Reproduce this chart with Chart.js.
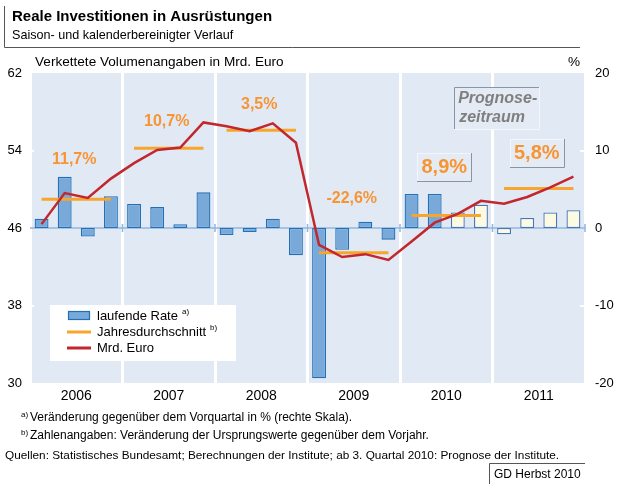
<!DOCTYPE html>
<html><head><meta charset="utf-8">
<script src="https://cdn.jsdelivr.net/npm/chart.js@4.4.0/dist/chart.umd.min.js"></script>
<style>html,body{margin:0;padding:0;background:#fff;}canvas{display:block}</style>
</head><body>
<canvas id="c" width="617" height="484"></canvas>
<script>
// ---- data ----
const years = ['2006', '2007', '2008', '2009', '2010', '2011'];
const quarters = ['I/06','II/06','III/06','IV/06','I/07','II/07','III/07','IV/07',
  'I/08','II/08','III/08','IV/08','I/09','II/09','III/09','IV/09',
  'I/10','II/10','III/10','IV/10','I/11','II/11','III/11','IV/11'];
const rateValues = [1.2, 6.6, -1.1, 4.1, 3.1, 2.7, 0.5, 4.6, -0.9, -0.5, 1.2, -3.5,
  -19.4, -2.8, 0.8, -1.5, 4.4, 4.4, 2.0, 3.0, -0.8, 1.3, 2.0, 2.3];
const euroValues = [46.4, 49.6, 49.1, 51.1, 52.7, 54.05, 54.3, 56.9, 56.5, 56.0, 56.8, 54.8,
  44.25, 43.0, 43.3, 42.7, 44.6, 46.55, 47.45, 48.8, 48.5, 49.2, 50.2, 51.3];
const annualAvg = [3.7, 10.3, 12.6, -3.2, 1.6, 5.1];
const annualLabels = ['11,7%', '10,7%', '3,5%', '-22,6%', '8,9%', '5,8%'];
const forecastStart = 18; // index of first forecast quarter (III/2010)
const leftTicks = [30, 38, 46, 54, 62];
const rightTicks = [-20, -10, 0, 10, 20];

// ---- style / placement (not data) ----
const FONT = "'Liberation Sans', Arial, sans-serif";
const BLUE_FILL = '#79A9D8', BLUE_LINE = '#2170B8';
const FC_FILL = '#FCFBE2', FC_LINE = '#4A74BC';
const RED = '#C1272D', ORANGE = '#F7A52C', LABEL_OR = '#F79534';
const PLOT_BG = '#E1E9F4';
const labelAt = [9.0, 13.9, 16.0, 3.9, 7.9, 9.7];   // y (right scale units) of the % labels
const labelBoxed = [false, false, false, false, true, true];

Chart.defaults.font.family = FONT;
Chart.defaults.color = '#000';

const annualSeries = quarters.map((q, i) => annualAvg[Math.floor(i / 4)]);

const bgPlugin = {
  id: 'bg',
  beforeDraw(chart) {
    const {ctx, chartArea: a} = chart;
    ctx.save();
    ctx.fillStyle = '#fff';
    ctx.fillRect(0, 0, chart.width, chart.height);
    ctx.fillStyle = PLOT_BG;
    ctx.fillRect(a.left, a.top, a.right - a.left, a.bottom - a.top);
    ctx.restore();
  },
  beforeDatasetsDraw(chart) {
    const {ctx, chartArea: a} = chart;
    const yR = chart.scales.yR, yL = chart.scales.yL, x = chart.scales.x;
    ctx.save();
    // small white ticks
    ctx.strokeStyle = '#fff'; ctx.lineWidth = 2;
    [54, 38].forEach(v => {
      const y = Math.round(yL.getPixelForValue(v));
      ctx.beginPath(); ctx.moveTo(a.left, y); ctx.lineTo(a.left + 4, y); ctx.stroke();
      ctx.beginPath(); ctx.moveTo(a.right - 5, y); ctx.lineTo(a.right, y); ctx.stroke();
    });
    // zero baseline with year ticks
    const y0 = yR.getPixelForValue(0);
    ctx.strokeStyle = '#8FB6E0'; ctx.lineWidth = 1.5;
    ctx.beginPath(); ctx.moveTo(a.left, y0); ctx.lineTo(a.right, y0); ctx.stroke();
    for (let i = 4; i <= quarters.length; i += 4) {
      const xp = i < quarters.length ? (x.getPixelForValue(i - 1) + x.getPixelForValue(i)) / 2 : a.right;
      ctx.beginPath(); ctx.moveTo(xp, y0 - 4); ctx.lineTo(xp, y0 + 4); ctx.stroke();
    }
    ctx.restore();
  }
};

function box(ctx, x0, y0, w, h, lightTopLeft) {
  ctx.save();
  ctx.fillStyle = '#E4EBF5';
  ctx.fillRect(x0, y0, w, h);
  const light = '#F3F6FA', dark = '#8A95A3';
  ctx.lineWidth = 1;
  ctx.strokeStyle = lightTopLeft ? light : dark;
  ctx.beginPath(); ctx.moveTo(x0 + 0.5, y0 + h); ctx.lineTo(x0 + 0.5, y0 + 0.5); ctx.lineTo(x0 + w, y0 + 0.5); ctx.stroke();
  ctx.strokeStyle = lightTopLeft ? dark : light;
  ctx.beginPath(); ctx.moveTo(x0 + w - 0.5, y0); ctx.lineTo(x0 + w - 0.5, y0 + h - 0.5); ctx.lineTo(x0, y0 + h - 0.5); ctx.stroke();
  ctx.restore();
}

const annoPlugin = {
  id: 'anno',
  afterDraw(chart) {
    const ctx = chart.ctx;
    const xs = chart.scales.x2, yR = chart.scales.yR;
    ctx.save();
    // year % labels
    annualLabels.forEach((t, i) => {
      const cx = xs.getPixelForValue(i) - 2;
      const cy = yR.getPixelForValue(labelAt[i]);
      if (labelBoxed[i]) {
        box(ctx, Math.round(cx - 27), Math.round(cy - 14), 55, 29, true);
        ctx.font = 'bold 20px ' + FONT;
      } else {
        ctx.font = 'bold 16px ' + FONT;
      }
      ctx.fillStyle = LABEL_OR; ctx.textAlign = 'center'; ctx.textBaseline = 'middle';
      ctx.fillText(t, cx, cy + 1);
    });
    // Prognose box
    const px = xs.getPixelForValue(4.55), py = yR.getPixelForValue(15.5);
    box(ctx, Math.round(px - 43), Math.round(py - 21), 86, 43, false);
    ctx.fillStyle = '#7F7F7F'; ctx.font = 'italic bold 16px ' + FONT;
    ctx.textAlign = 'left'; ctx.textBaseline = 'middle';
    ctx.fillText('Prognose-', px - 39, py - 9);
    ctx.fillText('zeitraum', px - 38, py + 10);

    // legend
    ctx.fillStyle = '#fff'; ctx.fillRect(50, 305, 186, 56);
    ctx.fillStyle = BLUE_FILL; ctx.fillRect(68, 311, 22, 9);
    ctx.strokeStyle = BLUE_LINE; ctx.lineWidth = 1.2; ctx.strokeRect(68.5, 311.5, 21, 8);
    ctx.lineWidth = 3;
    ctx.strokeStyle = ORANGE; ctx.beginPath(); ctx.moveTo(67, 332); ctx.lineTo(91, 332); ctx.stroke();
    ctx.strokeStyle = RED; ctx.beginPath(); ctx.moveTo(67, 348); ctx.lineTo(91, 348); ctx.stroke();
    ctx.fillStyle = '#000'; ctx.textAlign = 'left'; ctx.textBaseline = 'middle';
    ctx.font = '13px ' + FONT;
    const l1 = 'laufende Rate', l2 = 'Jahresdurchschnitt', l3 = 'Mrd. Euro';
    ctx.fillText(l1, 97, 316); ctx.fillText(l2, 97, 332); ctx.fillText(l3, 97, 348);
    const w1 = ctx.measureText(l1).width, w2 = ctx.measureText(l2).width;
    ctx.font = '8px ' + FONT;
    ctx.fillText('a)', 97 + w1 + 4, 312); ctx.fillText('b)', 97 + w2 + 4, 328);

    // header
    ctx.strokeStyle = '#555'; ctx.lineWidth = 1;
    ctx.beginPath(); ctx.moveTo(4.5, 6); ctx.lineTo(4.5, 47.5); ctx.lineTo(580, 47.5); ctx.stroke();
    ctx.fillStyle = '#000'; ctx.textBaseline = 'middle';
    ctx.font = 'bold 15px ' + FONT; ctx.fillText('Reale Investitionen in Ausrüstungen', 12, 17);
    ctx.font = '12.6px ' + FONT; ctx.fillText('Saison- und kalenderbereinigter Verlauf', 12, 36);
    ctx.font = '13.6px ' + FONT;
    ctx.fillText('Verkettete Volumenangaben in Mrd. Euro', 35, 62);
    ctx.fillText('%', 568, 62);

    // footnotes
    ctx.font = '8px ' + FONT; ctx.fillText('a)', 21, 415); ctx.fillText('b)', 21, 433);
    ctx.font = '12px ' + FONT;
    ctx.fillText('Veränderung gegenüber dem Vorquartal in % (rechte Skala).', 30, 418);
    ctx.fillText('Zahlenangaben: Veränderung der Ursprungswerte gegenüber dem Vorjahr.', 30, 436);
    ctx.font = '11.8px ' + FONT;
    ctx.fillText('Quellen: Statistisches Bundesamt; Berechnungen der Institute; ab 3. Quartal 2010: Prognose der Institute.', 5, 456);
    ctx.beginPath(); ctx.moveTo(489.5, 484); ctx.lineTo(489.5, 463.5); ctx.lineTo(585, 463.5); ctx.stroke();
    ctx.font = '12px ' + FONT; ctx.fillText('GD Herbst 2010', 494, 475);
    ctx.restore();
  }
};

new Chart(document.getElementById('c'), {
  data: {
    labels: quarters,
    datasets: [
      {
        type: 'line', label: 'Mrd. Euro', data: euroValues, yAxisID: 'yL', xAxisID: 'x',
        borderColor: RED, borderWidth: 2.5, pointRadius: 0, tension: 0, order: 1
      },
      {
        type: 'line', label: 'Jahresdurchschnitt', data: annualSeries, yAxisID: 'yR', xAxisID: 'x',
        borderColor: ORANGE, borderWidth: 3, pointRadius: 0, tension: 0, order: 2,
        segment: { borderColor: c => (c.p0DataIndex % 4 === 3 ? 'rgba(0,0,0,0)' : ORANGE) }
      },
      {
        type: 'bar', label: 'laufende Rate', data: rateValues, yAxisID: 'yR', xAxisID: 'x',
        backgroundColor: rateValues.map((v, i) => i >= forecastStart ? FC_FILL : BLUE_FILL),
        borderColor: rateValues.map((v, i) => i >= forecastStart ? FC_LINE : BLUE_LINE),
        borderWidth: 1.3, borderSkipped: false,
        categoryPercentage: 1, barPercentage: 0.6, order: 3
      }
    ]
  },
  options: {
    responsive: false, animation: false, events: [],
    layout: { padding: { top: 73, left: 0, right: 0, bottom: 0 } },
    plugins: { legend: { display: false }, tooltip: { enabled: false } },
    scales: {
      x: { type: 'category', display: false, offset: true },
      x2: {
        type: 'category', labels: years, position: 'bottom', offset: true,
        grid: { display: true, offset: true, color: '#fff', lineWidth: 3, drawTicks: false, drawOnChartArea: true },
        border: { display: false },
        ticks: { padding: 5, font: { size: 14 }, color: '#000', maxRotation: 0 },
        afterFit: s => { s.height = 101; }
      },
      yL: {
        type: 'linear', position: 'left', min: 30, max: 62,
        grid: { display: false, drawTicks: false }, border: { display: false },
        afterBuildTicks: s => { s.ticks = leftTicks.map(v => ({ value: v })); },
        ticks: { padding: 8, font: { size: 13 }, color: '#000' },
        afterFit: s => { s.width = 30; }
      },
      yR: {
        type: 'linear', position: 'right', min: -20, max: 20,
        grid: { display: false, drawTicks: false }, border: { display: false },
        afterBuildTicks: s => { s.ticks = rightTicks.map(v => ({ value: v })); },
        ticks: { padding: 10, font: { size: 13 }, color: '#000' },
        afterFit: s => { s.width = 32; }
      }
    }
  },
  plugins: [bgPlugin, annoPlugin]
});
</script>
</body></html>
